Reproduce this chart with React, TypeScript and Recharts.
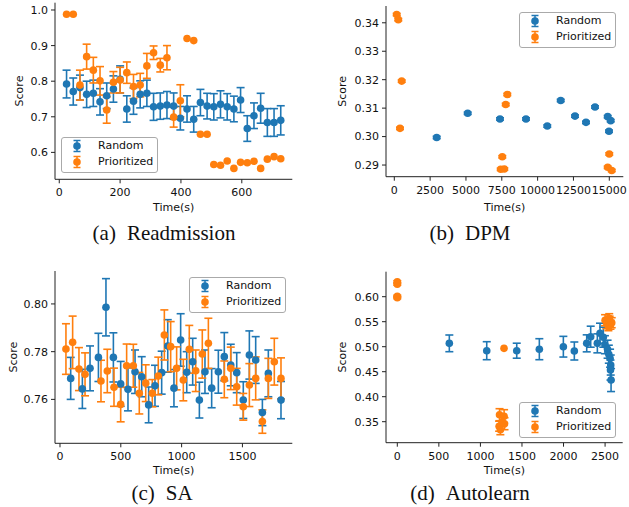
import React from 'react';
import { ScatterChart, Scatter, XAxis, YAxis, ErrorBar } from 'recharts';

// ---------- (a) Readmission ----------
const aTime = [24, 46, 68, 90, 112, 134, 156, 178, 200, 222, 244, 266, 288, 310, 332, 354, 376, 398, 420, 442, 464, 486, 508, 530, 552, 574, 596, 618, 640, 662, 684, 706, 728];
const aRandomScore = [0.792, 0.771, 0.782, 0.763, 0.766, 0.742, 0.759, 0.778, 0.805, 0.722, 0.744, 0.763, 0.766, 0.728, 0.730, 0.733, 0.730, 0.696, 0.722, 0.693, 0.740, 0.730, 0.728, 0.735, 0.728, 0.722, 0.747, 0.667, 0.703, 0.724, 0.684, 0.684, 0.690];
const aRandomErr = [0.039, 0.038, 0.035, 0.037, 0.037, 0.037, 0.036, 0.037, 0.038, 0.037, 0.037, 0.038, 0.037, 0.038, 0.037, 0.038, 0.037, 0.033, 0.037, 0.036, 0.037, 0.036, 0.037, 0.038, 0.037, 0.036, 0.035, 0.036, 0.036, 0.042, 0.039, 0.039, 0.041];
const aPrioritizedScore = [0.988, 0.988, 0.789, 0.869, 0.831, 0.801, 0.719, 0.797, 0.803, 0.824, 0.785, 0.789, 0.843, 0.880, 0.845, 0.866, 0.699, 0.745, 0.920, 0.914, 0.651, 0.651, 0.566, 0.564, 0.576, 0.555, 0.572, 0.571, 0.575, 0.555, 0.581, 0.588, 0.582];
const aPrioritizedErr = [0, 0, 0.042, 0.035, 0.036, 0.040, 0.037, 0.030, 0.036, 0.030, 0.034, 0.033, 0.035, 0.019, 0.019, 0.034, 0.028, 0.045, 0, 0, 0, 0, 0, 0, 0, 0, 0, 0, 0, 0, 0, 0, 0];
const aTimeTicks = [0, 200, 400, 600];
const aScoreTicks = [0.6, 0.7, 0.8, 0.9, 1.0];

// ---------- (b) DPM ----------
const bRandomTime = [2957, 5120, 7375, 9189, 10675, 11610, 12608, 13376, 14004, 14889, 14981, 15097];
const bRandomScore = [0.2997, 0.3082, 0.3062, 0.3062, 0.3037, 0.3127, 0.3072, 0.3050, 0.3104, 0.3070, 0.3019, 0.3056];
const bRandomErr = [0.0004, 0.0004, 0.0004, 0.0004, 0.0004, 0.0004, 0.0004, 0.0004, 0.0004, 0.0004, 0.0004, 0.0004];
const bPrioritizedTime = [167, 279, 516, 398, 7536, 7424, 7675, 7773, 7885, 15000, 14889, 15168];
const bPrioritizedScore = [0.3429, 0.3411, 0.3195, 0.3029, 0.2929, 0.2885, 0.2886, 0.3113, 0.3148, 0.2939, 0.2892, 0.2881];
const bPrioritizedErr = [0.0004, 0.0004, 0.0004, 0.0004, 0.0004, 0.0004, 0.0004, 0.0004, 0.0004, 0.0004, 0.0004, 0.0004];
const bTimeTicks = [0, 2500, 5000, 7500, 10000, 12500, 15000];
const bScoreTicks = [0.29, 0.30, 0.31, 0.32, 0.33, 0.34];

// ---------- (c) SA ----------
const cRandomTime = [88, 184, 247, 316, 378, 439, 499, 559, 617, 672, 729, 781, 836, 886, 937, 992, 1042, 1091, 1146, 1192, 1247, 1302, 1351, 1404, 1453, 1507, 1557, 1609, 1664, 1713, 1817];
const cRandomScore = [0.7688, 0.7644, 0.7730, 0.7776, 0.7986, 0.7776, 0.7665, 0.7642, 0.7716, 0.7695, 0.7577, 0.7657, 0.7712, 0.7824, 0.7647, 0.7849, 0.7714, 0.7758, 0.7597, 0.7716, 0.7647, 0.7716, 0.7779, 0.7744, 0.7712, 0.7597, 0.7786, 0.7765, 0.7545, 0.7709, 0.7597];
const cRandomErr = [0.0088, 0.0082, 0.0094, 0.0101, 0.012, 0.0103, 0.0094, 0.009, 0.0091, 0.0084, 0.0075, 0.0086, 0.009, 0.011, 0.0078, 0.011, 0.0086, 0.0098, 0.0075, 0.0091, 0.0082, 0.009, 0.0101, 0.0087, 0.0084, 0.0077, 0.0101, 0.0098, 0.0055, 0.0098, 0.0078];
const cPrioritizedTime = [49, 104, 156, 206, 337, 389, 444, 499, 548, 603, 652, 705, 759, 808, 858, 910, 959, 1014, 1063, 1116, 1170, 1220, 1351, 1404, 1453, 1507, 1557, 1609, 1664, 1713, 1762, 1817];
const cPrioritizedScore = [0.7811, 0.7839, 0.7727, 0.7705, 0.7677, 0.7719, 0.7651, 0.7579, 0.7741, 0.7741, 0.7626, 0.7668, 0.7626, 0.7698, 0.787, 0.7821, 0.773, 0.7681, 0.781, 0.772, 0.779, 0.7835, 0.7684, 0.773, 0.7653, 0.7569, 0.766, 0.7688, 0.7507, 0.7688, 0.7758, 0.7688];
const cPrioritizedErr = [0.0106, 0.011, 0.009, 0.009, 0.0087, 0.0091, 0.008, 0.0073, 0.0091, 0.009, 0.0087, 0.0077, 0.0057, 0.0079, 0.0105, 0.0105, 0.009, 0.0087, 0.01, 0.0087, 0.0101, 0.0105, 0.0077, 0.0089, 0.0077, 0.0056, 0.009, 0.009, 0.0049, 0.0084, 0.0098, 0.0086];
const cTimeTicks = [0, 500, 1000, 1500];
const cScoreTicks = [0.76, 0.78, 0.80];

// ---------- (d) Autolearn ----------
const dRandomTime = [626, 1076, 1437, 1709, 1998, 2130, 2279, 2327, 2407, 2439, 2479, 2498, 2530, 2545, 2560, 2568, 2565, 2572];
const dRandomScore = [0.5067, 0.492, 0.492, 0.495, 0.500, 0.4914, 0.5067, 0.520, 0.5067, 0.527, 0.519, 0.504, 0.495, 0.485, 0.477, 0.4633, 0.4533, 0.4333];
const dRandomErr = [0.0167, 0.018, 0.015, 0.021, 0.0207, 0.018, 0.017, 0.021, 0.019, 0.02, 0.02, 0.018, 0.018, 0.018, 0.018, 0.02, 0.02, 0.023];
const dPrioritizedTime = [0, 0, 0, 0, 1284, 1230, 1285, 1225, 1290, 1240, 1262, 2500, 2520, 2540, 2555, 2565, 2580, 2550];
const dPrioritizedScore = [0.630, 0.625, 0.601, 0.598, 0.4967, 0.364, 0.361, 0.341, 0.346, 0.334, 0.350, 0.553, 0.546, 0.540, 0.551, 0.544, 0.548, 0.557];
const dPrioritizedErr = [0.002, 0.002, 0.002, 0.002, 0, 0.012, 0.013, 0.010, 0.012, 0.010, 0.010, 0.011, 0.010, 0.008, 0.010, 0.009, 0.010, 0.009];
const dTimeTicks = [0, 500, 1000, 1500, 2000, 2500];
const dScoreTicks = [0.35, 0.40, 0.45, 0.50, 0.55, 0.60];

const legendLabels = ['Random', 'Prioritized'];
const BLUE = '#1f77b4';
const ORANGE = '#ff7f0e';
const FONT = '"DejaVu Sans", Verdana, sans-serif';
const SERIF = '"Liberation Serif", "Times New Roman", serif';

const rows = (t: number[], s: number[], e: number[]) => t.map((time, i) => ({ time, score: s[i], err: e[i] }));

const dotShape = (color: string) => (p: any) => <circle cx={p.cx} cy={p.cy} r={3.8} fill={color} />;

function LegendBox({ left, top }: { left: number; top: number }) {
  const colors = [BLUE, ORANGE];
  return (
    <div style={{ position: 'absolute', left, top, width: 97, height: 36, boxSizing: 'border-box', border: '1px solid #aaa', borderRadius: 3, background: 'rgba(255,255,255,0.85)', fontFamily: FONT, fontSize: 11, color: '#111' }}>
      {legendLabels.map((lab, i) => (
        <div key={lab} style={{ position: 'absolute', left: 0, top: i * 16, width: 95, height: 16 }}>
          <svg width={14} height={16} style={{ position: 'absolute', left: 8, top: 0 }}>
            <line x1={7} y1={2.5} x2={7} y2={13.5} stroke={colors[i]} strokeWidth={1.5} />
            <line x1={3.5} y1={2.5} x2={10.5} y2={2.5} stroke={colors[i]} strokeWidth={1.5} />
            <line x1={3.5} y1={13.5} x2={10.5} y2={13.5} stroke={colors[i]} strokeWidth={1.5} />
            <circle cx={7} cy={8} r={3.8} fill={colors[i]} />
          </svg>
          <span style={{ position: 'absolute', left: 36, top: 0, lineHeight: '16px', whiteSpace: 'nowrap' }}>{lab}</span>
        </div>
      ))}
    </div>
  );
}

type PanelProps = {
  left: number; top: number; width: number; height: number;
  margin: { top: number; right: number; left: number; bottom: number };
  yWidth: number; xHeight: number;
  xDomain: [number, number]; yDomain: [number, number];
  xTicks: number[]; yTicks: number[]; yDigits: number;
  random: any[]; prioritized: any[];
  scoreOffset: number; timeOffset: number;
};

function Panel(p: PanelProps) {
  const tickStyle = { fill: '#111', fontSize: 11, fontFamily: FONT };
  return (
    <div style={{ position: 'absolute', left: p.left, top: p.top }}>
      <ScatterChart width={p.width} height={p.height} margin={p.margin}>
        <XAxis type="number" dataKey="time" domain={p.xDomain} ticks={p.xTicks} interval={0} allowDataOverflow
          height={p.xHeight} tickSize={4} tickMargin={5} stroke="#222" tick={tickStyle}
          label={{ value: 'Time(s)', position: 'insideBottom', offset: p.timeOffset, style: { fontSize: 11, fill: '#111', fontFamily: FONT } }} />
        <XAxis xAxisId="top" orientation="top" type="number" domain={p.xDomain} allowDataOverflow height={0} tick={false} tickLine={false} stroke="#222" />
        <YAxis type="number" dataKey="score" domain={p.yDomain} ticks={p.yTicks} interval={0} allowDataOverflow
          width={p.yWidth} tickSize={4} tickMargin={3} stroke="#222" tick={tickStyle}
          tickFormatter={(v: number) => v.toFixed(p.yDigits)}
          label={{ value: 'Score', angle: -90, position: 'insideLeft', offset: p.scoreOffset, style: { textAnchor: 'middle', fontSize: 11, fill: '#111', fontFamily: FONT } }} />
        <YAxis yAxisId="right" orientation="right" type="number" domain={p.yDomain} allowDataOverflow width={0} tick={false} tickLine={false} stroke="#222" />
        <Scatter data={p.random} fill={BLUE} shape={dotShape(BLUE)} isAnimationActive={false}>
          <ErrorBar dataKey="err" direction="y" width={4} strokeWidth={1.6} stroke={BLUE} isAnimationActive={false} />
        </Scatter>
        <Scatter data={p.prioritized} fill={ORANGE} shape={dotShape(ORANGE)} isAnimationActive={false}>
          <ErrorBar dataKey="err" direction="y" width={4} strokeWidth={1.6} stroke={ORANGE} isAnimationActive={false} />
        </Scatter>
      </ScatterChart>
    </div>
  );
}

function Caption({ x, y, tag, name }: { x: number; y: number; tag: string; name: string }) {
  return (
    <div style={{ position: 'absolute', left: x - 120, top: y - 12, width: 240, textAlign: 'center', fontFamily: SERIF, fontSize: 21, lineHeight: '24px', color: '#111', whiteSpace: 'nowrap' }}>
      {tag}<span style={{ marginLeft: 11 }}>{name}</span>
    </div>
  );
}

export default function App() {
  return (
    <div style={{ position: 'absolute', left: 0, top: 0, width: 629, height: 507, background: '#fff', overflow: 'hidden' }}>
      <Panel left={0} top={0} width={300} height={220} margin={{ top: 2.7, right: 7.7, left: 0, bottom: 0 }}
        yWidth={55} xHeight={40.7} xDomain={[-14, 766]} yDomain={[0.5244, 1.0205]}
        xTicks={aTimeTicks} yTicks={aScoreTicks} yDigits={1}
        random={rows(aTime, aRandomScore, aRandomErr)} prioritized={rows(aTime, aPrioritizedScore, aPrioritizedErr)}
        scoreOffset={19} timeOffset={9.5} />
      <Panel left={310} top={0} width={319} height={220} margin={{ top: 6, right: 5.7, left: 0, bottom: 0 }}
        yWidth={76} xHeight={43.3} xDomain={[-579, 15978]} yDomain={[0.2859, 0.3459]}
        xTicks={bTimeTicks} yTicks={bScoreTicks} yDigits={2}
        random={rows(bRandomTime, bRandomScore, bRandomErr)} prioritized={rows(bPrioritizedTime, bPrioritizedScore, bPrioritizedErr)}
        scoreOffset={32} timeOffset={9.5} />
      <Panel left={0} top={250} width={300} height={230} margin={{ top: 21, right: 7.7, left: 0, bottom: 0 }}
        yWidth={55} xHeight={36.7} xDomain={[-41, 1910]} yDomain={[0.7416, 0.8138]}
        xTicks={cTimeTicks} yTicks={cScoreTicks} yDigits={2}
        random={rows(cRandomTime, cRandomScore, cRandomErr)} prioritized={rows(cPrioritizedTime, cPrioritizedScore, cPrioritizedErr)}
        scoreOffset={12.7} timeOffset={6.5} />
      <Panel left={310} top={250} width={319} height={230} margin={{ top: 21.7, right: 6.3, left: 0, bottom: 0 }}
        yWidth={76} xHeight={37.3} xDomain={[-136, 2712]} yDomain={[0.308, 0.65]}
        xTicks={dTimeTicks} yTicks={dScoreTicks} yDigits={2}
        random={rows(dRandomTime, dRandomScore, dRandomErr)} prioritized={rows(dPrioritizedTime, dPrioritizedScore, dPrioritizedErr)}
        scoreOffset={32} timeOffset={6.5} />
      <LegendBox left={61} top={137} />
      <LegendBox left={519} top={12} />
      <LegendBox left={189} top={277} />
      <LegendBox left={519} top={402} />
      <Caption x={164} y={233} tag="(a)" name="Readmission" />
      <Caption x={470} y={233} tag="(b)" name="DPM" />
      <Caption x={162} y={493} tag="(c)" name="SA" />
      <Caption x={470} y={493} tag="(d)" name="Autolearn" />
    </div>
  );
}
